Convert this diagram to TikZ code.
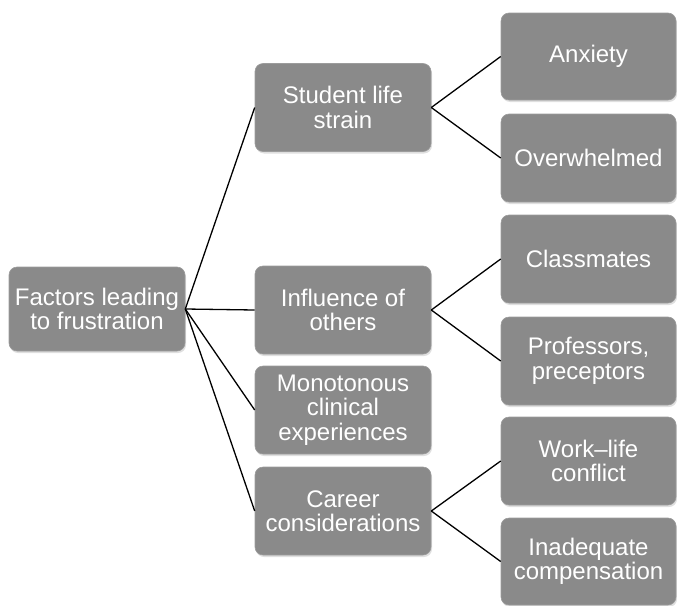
\documentclass[tikz,border=0pt]{standalone}
\usepackage{fontspec}
\setmainfont{Liberation Sans}
\usetikzlibrary{shadows}
\definecolor{boxgray}{RGB}{138,138,138}
\tikzset{
  box/.style={rectangle, rounded corners=8pt, fill=boxgray, draw=boxgray!85!white, line width=0.6pt,
    text=white, align=center, inner sep=2pt,
    font=\fontsize{24}{24.5}\selectfont,
    drop shadow={opacity=0.25, shadow xshift=1pt, shadow yshift=-2pt}},
  link/.style={black, line width=1.3pt}
}
\begin{document}
\begin{tikzpicture}[x=1pt,y=-1pt]
\useasboundingbox (0,0) rectangle (677,605);
\node[box, minimum width=176pt, minimum height=84pt] (root) at (97,309) {Factors leading\\to frustration};
\node[box, minimum width=176pt, minimum height=88pt] (s) at (343,107.5) {Student life\\strain};
\node[box, minimum width=176pt, minimum height=88pt] (i) at (343,310) {Influence of\\others};
\node[box, minimum width=176pt, minimum height=88pt] (m) at (343,410) {Monotonous\\clinical\\experiences};
\node[box, minimum width=176pt, minimum height=88pt] (c) at (343,511) {Career\\considerations};
\node[box, minimum width=175pt, minimum height=87pt] (a) at (588.5,56.5) {Anxiety};
\node[box, minimum width=175pt, minimum height=88pt] (o) at (588.5,158) {Overwhelmed};
\node[box, minimum width=175pt, minimum height=88pt] (cl) at (588.5,259) {Classmates};
\node[box, minimum width=175pt, minimum height=88pt] (p) at (588.5,361) {Professors,\\preceptors};
\node[box, minimum width=175pt, minimum height=88pt] (w) at (588.5,461) {Work–life\\conflict};
\node[box, minimum width=175pt, minimum height=87pt] (ia) at (588.5,561.5) {Inadequate\\compensation};
\foreach \t in {s,i,m,c} \draw[link] (root.east) -- (\t.west);
\draw[link] (s.east) -- (a.west);
\draw[link] (s.east) -- (o.west);
\draw[link] (i.east) -- (cl.west);
\draw[link] (i.east) -- (p.west);
\draw[link] (c.east) -- (w.west);
\draw[link] (c.east) -- (ia.west);
\end{tikzpicture}
\end{document}
